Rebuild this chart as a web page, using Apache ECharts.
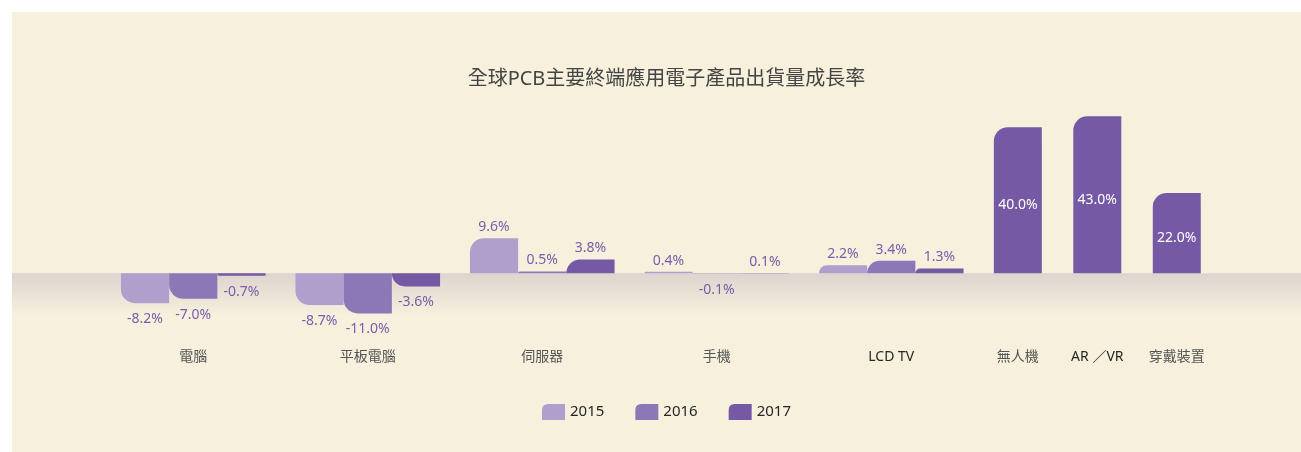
<!DOCTYPE html>
<html>
<head>
<meta charset="utf-8">
<script src="https://cdn.jsdelivr.net/npm/echarts@6/dist/echarts.min.js"></script>
<style>
  html, body { margin: 0; padding: 0; background: #ffffff; overflow: hidden; width: 1301px; height: 452px; }
  #chart { position: absolute; left: 12px; top: 12px; width: 1309px; height: 440px; }
</style>
</head>
<body>
<div id="chart"></div>
<script>
// Shipment growth of PCB end-use products (%)
const mainCategories = ['電腦', '平板電腦', '伺服器', '手機', 'LCD TV'];
const newCategories = ['無人機', 'AR ／VR', '穿戴裝置'];
const years = ['2015', '2016', '2017'];
const growth2015 = [-8.2, -8.7, 9.6, 0.4, 2.2];
const growth2016 = [-7.0, -11.0, 0.5, -0.1, 3.4];
const growth2017 = [-0.7, -3.6, 3.8, 0.1, 1.3];
const growth2017New = [40.0, 43.0, 22.0];

const FONT = "'Noto Sans', 'Noto Sans CJK TC', sans-serif";
const BG = '#f6f0dd';
const COLORS = ['#b09fcc', '#8c78b6', '#7659a4'];
const LABEL_COLOR = '#7a5daa';
const RADIUS = 14;
const LATIN_LABELS = ['LCD TV', 'AR ／VR'];

function axisData(list) {
  return list.map(function (c) {
    return LATIN_LABELS.indexOf(c) >= 0
      ? { value: c, textStyle: { color: '#262626' } }
      : c;
  });
}

// rounded outer-left corner: top for gains, bottom for declines
function barItems(values) {
  return values.map(function (v) {
    const up = v >= 0;
    return {
      value: v,
      itemStyle: { borderRadius: up ? [RADIUS, 0, 0, 0] : [0, 0, 0, RADIUS] },
      label: { position: up ? 'top' : 'bottom', distance: up ? 4 : 9 }
    };
  });
}

const pct = function (p) { return p.value.toFixed(1) + '%'; };

const yAxisBase = { type: 'value', min: -15, max: 45, interval: 15, show: false, splitLine: { show: false } };
const xAxisBase = {
  type: 'category',
  axisLine: { show: false },
  axisTick: { show: false },
  axisLabel: { color: '#555555', fontSize: 14, fontFamily: FONT, margin: 22 }
};

const outsideLabel = { show: true, formatter: pct, color: LABEL_COLOR, fontSize: 14, fontFamily: FONT };

const chart = echarts.init(document.getElementById('chart'));
chart.setOption({
  backgroundColor: BG,
  animation: false,
  title: {
    text: '全球PCB主要終端應用電子產品出貨量成長率',
    left: 'center',
    top: 57,
    padding: 0,
    textStyle: { color: '#444444', fontSize: 20, fontWeight: 'normal', fontFamily: FONT }
  },
  legend: {
    data: years,
    left: 'center',
    top: 387,
    itemWidth: 23,
    itemHeight: 16,
    itemGap: 31,
    icon: 'path://M0,16 L0,6 Q0,0 6,0 L23,0 L23,16 Z',
    textStyle: { color: '#262626', fontSize: 15, fontFamily: FONT }
  },
  grid: [
    { left: 94, top: 97, width: 872.5, height: 219 },
    { left: 966.1, top: 97, width: 238.4, height: 219 }
  ],
  xAxis: [
    Object.assign({ gridIndex: 0, data: axisData(mainCategories) }, xAxisBase),
    Object.assign({ gridIndex: 1, data: axisData(newCategories) }, xAxisBase)
  ],
  yAxis: [
    Object.assign({ gridIndex: 0 }, yAxisBase),
    Object.assign({ gridIndex: 1 }, yAxisBase)
  ],
  series: [
    { name: years[0], type: 'bar', xAxisIndex: 0, yAxisIndex: 0, barWidth: 48.2, barGap: '0%',
      itemStyle: { color: COLORS[0] }, label: outsideLabel, data: barItems(growth2015) },
    { name: years[1], type: 'bar', xAxisIndex: 0, yAxisIndex: 0, barWidth: 48.2, barGap: '0%',
      itemStyle: { color: COLORS[1] }, label: outsideLabel, data: barItems(growth2016) },
    { name: years[2], type: 'bar', xAxisIndex: 0, yAxisIndex: 0, barWidth: 48.2, barGap: '0%',
      itemStyle: { color: COLORS[2] }, label: outsideLabel, data: barItems(growth2017) },
    { name: years[2], type: 'bar', xAxisIndex: 1, yAxisIndex: 1, barWidth: 48,
      itemStyle: { color: COLORS[2], borderRadius: [RADIUS, 0, 0, 0] },
      label: { show: true, position: 'inside', offset: [0, 5], formatter: pct, color: '#ffffff', fontSize: 14, fontFamily: FONT },
      data: growth2017New }
  ]
});

// soft shadow band hanging below the zero line
const zeroY = chart.convertToPixel({ yAxisIndex: 0 }, 0);
chart.setOption({
  graphic: [{
    type: 'rect',
    silent: true,
    z: 0,
    shape: { x: 0, y: zeroY, width: chart.getWidth(), height: 42 },
    style: {
      fill: new echarts.graphic.LinearGradient(0, 0, 0, 1, [
        { offset: 0, color: '#ddd4cf' },
        { offset: 1, color: BG }
      ])
    }
  }]
});
</script>
</body>
</html>
